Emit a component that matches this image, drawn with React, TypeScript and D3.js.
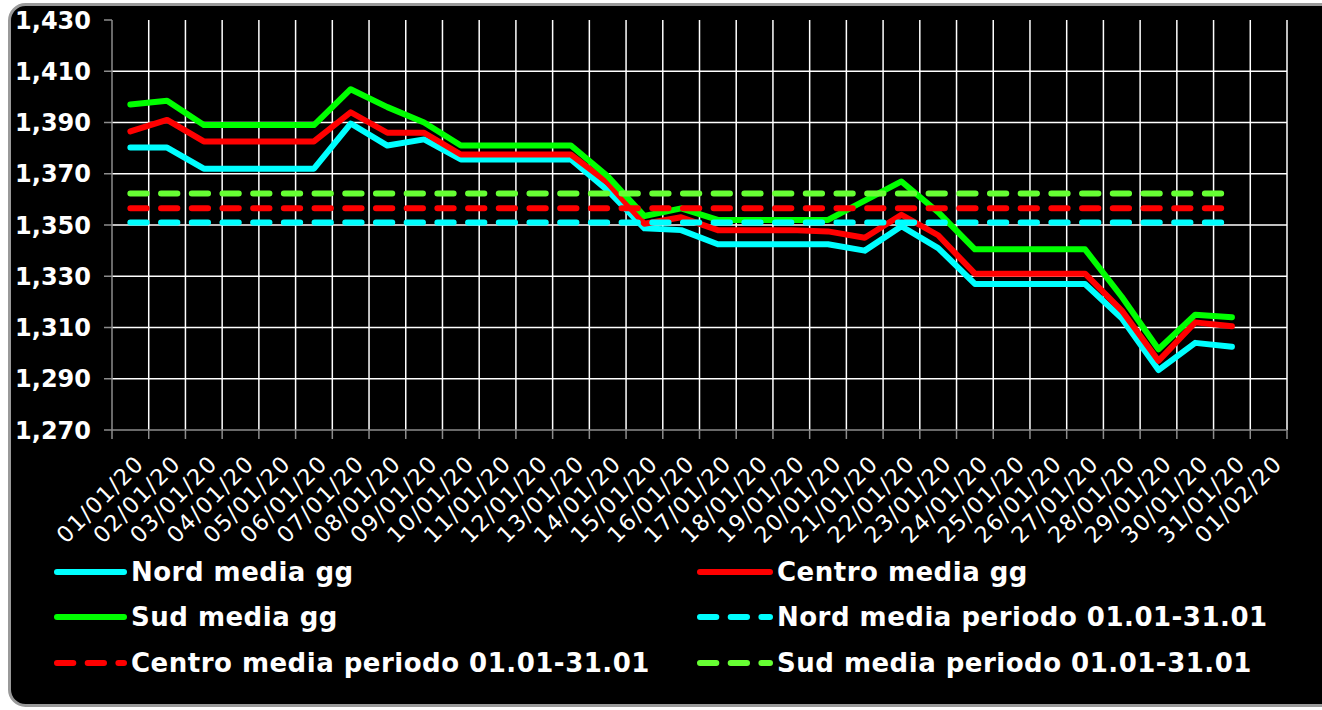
import React from 'react';
import * as d3 from 'd3';

const dates = [
  '01/01/20','02/01/20','03/01/20','04/01/20','05/01/20','06/01/20','07/01/20','08/01/20',
  '09/01/20','10/01/20','11/01/20','12/01/20','13/01/20','14/01/20','15/01/20','16/01/20',
  '17/01/20','18/01/20','19/01/20','20/01/20','21/01/20','22/01/20','23/01/20','24/01/20',
  '25/01/20','26/01/20','27/01/20','28/01/20','29/01/20','30/01/20','31/01/20','01/02/20',
];

const nordDaily = [
  1.3802, 1.3802, 1.372, 1.372, 1.372, 1.372, 1.3896, 1.381, 1.3834, 1.3756, 1.3756,
  1.3756, 1.3756, 1.3635, 1.3487, 1.348, 1.3425, 1.3425, 1.3425, 1.3425, 1.340, 1.3495,
  1.341, 1.327, 1.327, 1.327, 1.327, 1.3136, 1.2934, 1.304, 1.3025,
];
const centroDaily = [
  1.3865, 1.391, 1.3826, 1.3826, 1.3826, 1.3826, 1.394, 1.386, 1.386, 1.3775, 1.3775,
  1.3775, 1.3775, 1.3665, 1.3505, 1.353, 1.348, 1.348, 1.348, 1.3475, 1.345, 1.354,
  1.346, 1.331, 1.331, 1.331, 1.331, 1.3166, 1.297, 1.312, 1.3105,
];
const sudDaily = [
  1.397, 1.3985, 1.389, 1.389, 1.389, 1.389, 1.403, 1.396, 1.390, 1.381, 1.381,
  1.381, 1.381, 1.369, 1.3535, 1.3565, 1.352, 1.352, 1.352, 1.352, 1.3595, 1.367,
  1.355, 1.3405, 1.3405, 1.3405, 1.3405, 1.322, 1.3015, 1.315, 1.314,
];
const nordMean = 1.351;
const centroMean = 1.3565;
const sudMean = 1.3623;

const yTicks = [1.27, 1.29, 1.31, 1.33, 1.35, 1.37, 1.39, 1.41, 1.43];

const seriesNames = [
  'Nord media gg',
  'Centro media gg',
  'Sud media gg',
  'Nord media periodo 01.01-31.01',
  'Centro media periodo 01.01-31.01',
  'Sud media periodo 01.01-31.01',
];

const W = 1322;
const H = 710;
const L = 112;
const R = 1287;
const T = 20;
const B = 430;
const DASH = '16.3 14.4';

export default function App() {
  const x = d3.scaleBand<string>().domain(dates).range([L, R]).padding(0);
  const cx = (d: string) => (x(d) as number) + x.bandwidth() / 2;
  const y = d3.scaleLinear().domain([1.27, 1.43]).range([B, T]);
  const fmt = (v: number) => d3.format('.3f')(v).replace('.', ',');

  const dayDates = dates.slice(0, nordDaily.length);
  const line = d3
    .line<number>()
    .x((_, i) => cx(dayDates[i]))
    .y((v) => y(v));

  const solid = [
    { name: seriesNames[0], data: nordDaily, color: '#00FFFF' },
    { name: seriesNames[1], data: centroDaily, color: '#FF0000' },
    { name: seriesNames[2], data: sudDaily, color: '#00FF00' },
  ];
  const dashed = [
    { name: seriesNames[3], data: dayDates.map(() => nordMean), color: '#00FFFF' },
    { name: seriesNames[4], data: dayDates.map(() => centroMean), color: '#FF0000' },
    { name: seriesNames[5], data: dayDates.map(() => sudMean), color: '#66FF33' },
  ];

  const boundaries = [...dates.map((d) => x(d) as number), R];

  const legendItems = [
    { ...solid[0], dashed: false, col: 0, row: 0 },
    { ...solid[1], dashed: false, col: 1, row: 0 },
    { ...solid[2], dashed: false, col: 0, row: 1 },
    { ...dashed[0], dashed: true, col: 1, row: 1 },
    { ...dashed[1], dashed: true, col: 0, row: 2 },
    { ...dashed[2], dashed: true, col: 1, row: 2 },
  ];
  const legCols = [{ x0: 57, x1: 124, tx: 131 }, { x0: 700, x1: 770, tx: 777 }];
  const legRows = [572, 617, 663];

  return (
    <svg
      width={W}
      height={H}
      style={{ position: 'absolute', left: 0, top: 0, background: '#fff' }}
    >
      <rect x={9.5} y={4.5} width={1340} height={701} rx={16} ry={16} fill="#000" stroke="#9a9a9a" strokeWidth={3} />

      {/* horizontal gridlines */}
      {yTicks.slice(1, -1).map((t) => (
        <line key={'hg' + t} x1={L} x2={R} y1={y(t)} y2={y(t)} stroke="#fff" strokeWidth={1.6} />
      ))}
      {/* vertical gridlines */}
      {boundaries.slice(1).map((bx, i) => (
        <line key={'vg' + i} x1={bx} x2={bx} y1={T} y2={B} stroke="#fff" strokeWidth={1.5} />
      ))}
      {/* axes */}
      <line x1={L} x2={L} y1={T} y2={B} stroke="#8c8c8c" strokeWidth={1.5} />
      <line x1={L} x2={R} y1={B} y2={B} stroke="#8c8c8c" strokeWidth={1.5} />
      {yTicks.map((t) => (
        <line key={'yt' + t} x1={104} x2={L} y1={y(t)} y2={y(t)} stroke="#8c8c8c" strokeWidth={1.5} />
      ))}
      {boundaries.map((bx, i) => (
        <line key={'xt' + i} x1={bx} x2={bx} y1={B} y2={B + 9} stroke="#8c8c8c" strokeWidth={1.5} />
      ))}

      {/* y labels */}
      {yTicks.map((t) => (
        <text
          key={'yl' + t}
          x={91}
          y={y(t) + 8.5}
          textAnchor="end"
          fill="#fff"
          fontFamily="DejaVu Sans"
          fontWeight="bold"
          fontSize={24}
        >
          {fmt(t)}
        </text>
      ))}

      {/* x labels */}
      {dates.map((d) => (
        <text
          key={'xl' + d}
          transform={`translate(${cx(d) + 15},${465}) rotate(-45)`}
          textAnchor="end"
          fill="#fff"
          fontFamily="DejaVu Sans"
          fontSize={22.5}
          letterSpacing={1.4}
        >
          {d}
        </text>
      ))}

      {/* series */}
      {solid.map((s) => (
        <path
          key={s.name}
          d={line(s.data) as string}
          fill="none"
          stroke={s.color}
          strokeWidth={6}
          strokeLinejoin="round"
          strokeLinecap="round"
        />
      ))}
      {dashed.map((s) => (
        <path
          key={s.name}
          d={line(s.data) as string}
          fill="none"
          stroke={s.color}
          strokeWidth={6}
          strokeDasharray={DASH}
          strokeLinecap="round"
        />
      ))}

      {/* legend */}
      {legendItems.map((it) => {
        const c = legCols[it.col];
        const ry = legRows[it.row];
        return (
          <g key={'lg' + it.name}>
            <line
              x1={c.x0}
              x2={c.x1}
              y1={ry}
              y2={ry}
              stroke={it.color}
              strokeWidth={6}
              strokeLinecap="round"
              strokeDasharray={it.dashed ? DASH : undefined}
            />
            <text
              x={c.tx}
              y={ry + 9}
              fill="#fff"
              fontFamily="DejaVu Sans"
              fontWeight="bold"
              fontSize={26}
              letterSpacing={0.5}
            >
              {it.name}
            </text>
          </g>
        );
      })}
    </svg>
  );
}
